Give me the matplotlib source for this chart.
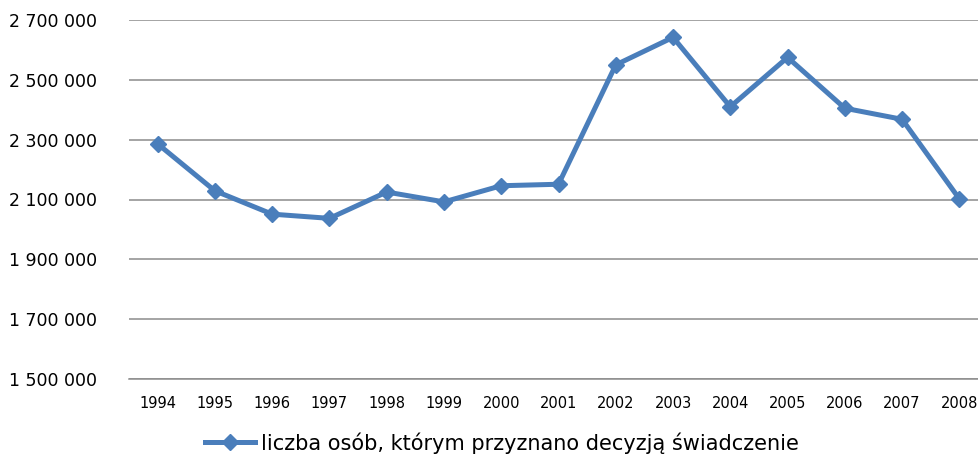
import matplotlib
matplotlib.use("Agg")
import matplotlib.pyplot as plt
from matplotlib.ticker import FuncFormatter

years = ["1994", "1995", "1996", "1997", "1998", "1999", "2000", "2001",
         "2002", "2003", "2004", "2005", "2006", "2007", "2008"]
persons = [2286000, 2129000, 2051000, 2037000, 2125000, 2092000, 2146000, 2151000,
           2550000, 2642000, 2410000, 2575000, 2405000, 2368000, 2102000]
label = "liczba osób, którym przyznano decyzją świadczenie"

blue = "#4a7ebb"

fig = plt.figure(figsize=(9.79, 4.54), dpi=100)
ax = fig.add_axes([129 / 979, 1 - 379 / 454, 859 / 979, 359 / 454])

x = list(range(len(years)))
ax.plot(x, persons, color=blue, lw=3.6, marker="D", ms=8.5, label=label, zorder=3)

ax.set_xlim(-0.5, len(years) - 0.5)
ax.set_ylim(1500000, 2700000)
ax.set_yticks(range(1500000, 2700001, 200000))
ax.yaxis.set_major_formatter(FuncFormatter(lambda v, p: f"{int(v):,}".replace(",", " ")))
ax.set_xticks(x)
ax.set_xticklabels(years)

ax.grid(axis="y", color="#8c8c8c", lw=1.1)
ax.set_axisbelow(True)
for s in ["left", "right", "top"]:
    ax.spines[s].set_visible(False)
ax.spines["bottom"].set_color("#8c8c8c")
ax.spines["bottom"].set_linewidth(1.1)
ax.tick_params(axis="both", length=0)
ax.tick_params(axis="y", labelsize=12.5, pad=23)
ax.tick_params(axis="x", labelsize=10.5, pad=12)

fig.legend(loc="center", bbox_to_anchor=(502 / 979, 1 - 443 / 454), frameon=False,
           fontsize=15, handlelength=2.4, handletextpad=0.3, borderpad=0.1)

fig.savefig("out.png", dpi=100)
